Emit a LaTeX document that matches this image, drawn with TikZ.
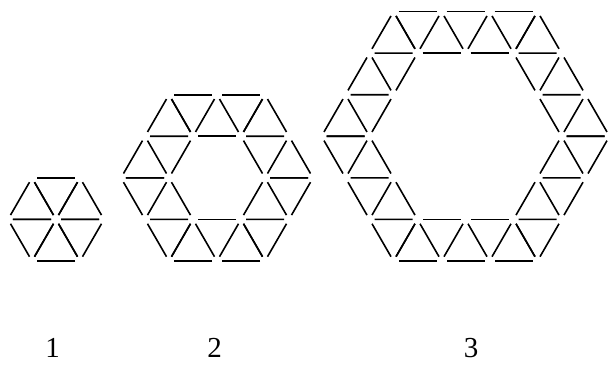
\documentclass[tikz,border=0pt]{standalone}
\usepackage{fontspec}
\setmainfont{Liberation Serif}

\newcommand{\sside}{48}
\newcommand{\shgt}{41.57}
\tikzset{
  stick/.style={line width=1.6pt, shorten <=5pt, shorten >=5pt},
  steplabel/.style={anchor=base, inner sep=0pt, font=\fontsize{29}{31}\selectfont}
}

% (centre x, centre y, side) -- six rows of sticks round a hexagonal hole
\newcommand{\ring}[3]{
  \foreach \r in {0,...,5}{
    \begin{scope}[shift={(#1,#2)}, rotate=60*\r]
      \pgfmathtruncatemacro{\nlast}{#3-1}
      \foreach \i in {0,...,\nlast}{
        \draw[stick] ({(\i-#3/2)*\sside}, {#3*\shgt}) -- ({(\i+1-#3/2)*\sside}, {#3*\shgt});
        \draw[stick] ({(\i-#3/2)*\sside}, {#3*\shgt}) -- ({(\i-#3/2+0.5)*\sside}, {(#3-1)*\shgt});
        \draw[stick] ({(\i-#3/2+0.5)*\sside}, {(#3-1)*\shgt}) -- ({(\i+1-#3/2)*\sside}, {#3*\shgt});
      }
      \ifnum#3>1
        \foreach \i in {1,...,\nlast}{
          \draw[stick] ({(\i-#3/2-0.5)*\sside}, {(#3-1)*\shgt}) -- ({(\i-#3/2+0.5)*\sside}, {(#3-1)*\shgt});
        }
      \fi
    \end{scope}
  }
}

\begin{document}
\begin{tikzpicture}[x=1pt, y=1pt]
  \useasboundingbox (0,0) rectangle (608,365);

  \ring{56}{104+\shgt}{1}
  \ring{217}{104+2*\shgt}{2}
  \ring{465.5}{104+3*\shgt}{3}

  \node[steplabel] (lab1) at (52.5,8) {1};
  \node[steplabel] (lab2) at (214.5,8) {2};
  \node[steplabel] (lab3) at (471,8) {3};
\end{tikzpicture}
\end{document}
